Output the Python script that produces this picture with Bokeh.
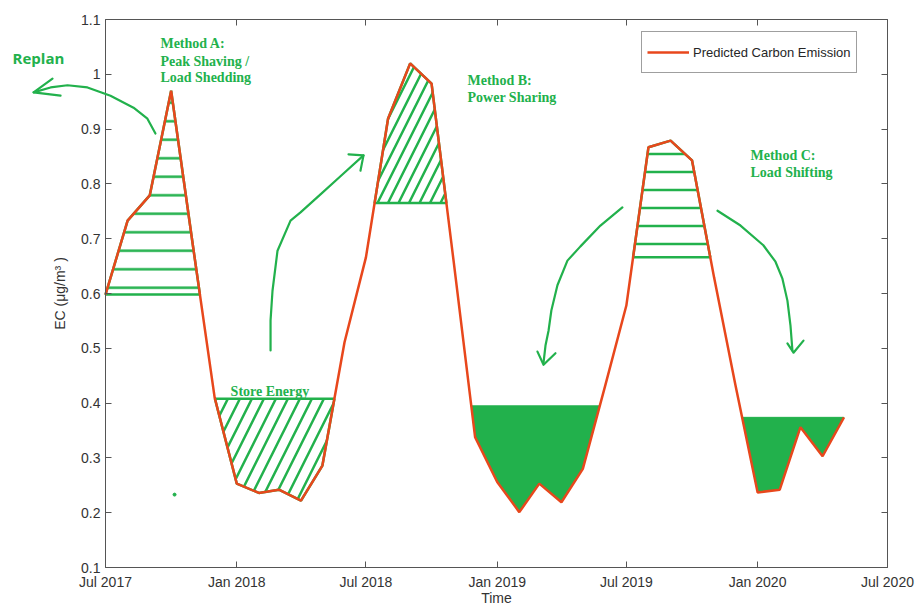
import numpy as np
import pandas as pd
from bokeh.plotting import figure
from bokeh.models import (LinearAxis, DatetimeAxis, FixedTicker, DatetimeTickFormatter,
                          Label, PolyAnnotation, Range1d)
from bokeh.embed import file_html
from bokeh.resources import INLINE

# ---------------- data ----------------
months = pd.date_range("2017-07-01", "2020-05-01", freq="MS")
emission = [0.598, 0.733, 0.779, 0.970, 0.683, 0.410, 0.253, 0.236, 0.242, 0.222,
            0.286, 0.511, 0.666, 0.919, 1.020, 0.983, 0.658, 0.338, 0.256, 0.201,
            0.253, 0.219, 0.280, 0.430, 0.578, 0.867, 0.879, 0.843, 0.629, 0.432,
            0.237, 0.242, 0.356, 0.303, 0.374]

x_tick_dates = ["2017-07-01", "2018-01-01", "2018-07-01", "2019-01-01",
                "2019-07-01", "2020-01-01", "2020-07-01"]
y_ticks = [0.1, 0.2, 0.3, 0.4, 0.5, 0.6, 0.7, 0.8, 0.9, 1.0, 1.1]
y_tick_labels = ["0.1", "0.2", "0.3", "0.4", "0.5", "0.6", "0.7", "0.8", "0.9", "1", "1.1"]

# regions: (first index, last index, threshold, above?)
method_a = (0, 5, 0.598, True)
store_energy = (5, 11, 0.408, False)
method_b = (11, 17, 0.765, True)
fill_1 = (16, 24, 0.395, False)
method_c = (23, 29, 0.666, True)
fill_2 = (28, 34, 0.374, False)

# annotation paths (months after Jul 2017, value)
arrow_replan = [(2.30, 0.892), (1.93, 0.919), (1.29, 0.939), (0.23, 0.961), (-0.83, 0.976),
                (-1.75, 0.980), (-2.53, 0.976), (-3.31, 0.967)]
head_replan = [(-2.44, 0.992), (-3.31, 0.967), (-2.07, 0.961)]
arrow_b = [(7.60, 0.496), (7.60, 0.551), (7.69, 0.605), (7.92, 0.678), (8.52, 0.733),
           (8.98, 0.748), (9.90, 0.781), (10.82, 0.814), (11.88, 0.852)]
head_b = [(11.19, 0.854), (11.88, 0.852), (11.74, 0.824)]
arrow_c1 = [(23.80, 0.757), (22.79, 0.724), (21.87, 0.686), (21.27, 0.660), (20.81, 0.615),
            (20.53, 0.569), (20.40, 0.532), (20.26, 0.505), (20.17, 0.474)]
head_c1 = [(19.89, 0.494), (20.17, 0.470), (20.72, 0.491)]
arrow_c2 = [(28.18, 0.751), (29.24, 0.724), (30.29, 0.688), (30.85, 0.658), (31.17, 0.627),
            (31.40, 0.587), (31.54, 0.542), (31.63, 0.496)]
head_c2 = [(31.40, 0.509), (31.68, 0.492), (32.14, 0.514)]
stray_dot = (3.18, 0.233)

texts = [
    ("Replan", -4.28, 1.030, "sans"),
    ("Method A:", 2.53, 1.056, "serif"),
    ("Peak Shaving /", 2.53, 1.024, "serif"),
    ("Load Shedding", 2.53, 0.994, "serif"),
    ("Method B:", 16.67, 0.989, "serif"),
    ("Power Sharing", 16.67, 0.958, "serif"),
    ("Method C:", 29.70, 0.851, "serif"),
    ("Load Shifting", 29.70, 0.820, "serif"),
    ("Store Energy", 5.76, 0.422, "serif"),
]
x_axis_title = "Time"
y_axis_title = "EC (μg/m³ )"
legend_title = "Predicted Carbon Emission"

# ---------------- helpers ----------------
def ms(d):
    return pd.Timestamp(d).value / 1e6

x = np.array([t.value / 1e6 for t in months])
y = np.array(emission)
base_ms = ms("2017-07-01")
MONTH_MS = 30.4375 * 86400000.0

def mx(m):
    return base_ms + m * MONTH_MS

def region(spec):
    i0, i1, thr, above = spec
    xs, ys = [], []
    def inside(v):
        return v >= thr - 1e-9 if above else v <= thr + 1e-9
    for k in range(i0, i1 + 1):
        ink = inside(y[k])
        if k > i0:
            inp = inside(y[k - 1])
            if ink != inp:
                f = (thr - y[k - 1]) / (y[k] - y[k - 1])
                xs.append(x[k - 1] + f * (x[k] - x[k - 1]))
                ys.append(thr)
        if ink:
            xs.append(x[k])
            ys.append(y[k])
    return xs, ys

GREEN = "#22B14C"
RED = "#E8471C"
AXC = "#555555"
TXC = "#333333"

# layout: the frame covers the whole canvas; the axes box (drawn with fixed-location
# axes) sits at 105..887 px horizontally and 19..567 px vertically
W, H = 916, 608
BOX_L, BOX_R, BOX_T, BOX_B = 105, 887, 19, 567
x_start = ms(x_tick_dates[0])
x_end = ms(x_tick_dates[-1])
y_start, y_end = y_ticks[0], y_ticks[-1]
xpp = (x_end - x_start) / (BOX_R - BOX_L)
ypp = (y_end - y_start) / (BOX_B - BOX_T)
x_lo, x_hi = x_start - BOX_L * xpp, x_end + (W - BOX_R) * xpp
y_lo, y_hi = y_start - (H - BOX_B) * ypp, y_end + BOX_T * ypp

# ---------------- figure ----------------
p = figure(width=W, height=H, x_axis_type="datetime", output_backend="svg",
           toolbar_location=None, min_border=0,
           x_range=Range1d(x_lo, x_hi), y_range=Range1d(y_lo, y_hi))
p.xgrid.visible = False
p.ygrid.visible = False
p.outline_line_color = None
p.background_fill_color = "white"
p.border_fill_color = "white"

xt = [ms(d) for d in x_tick_dates]
fmt = DatetimeTickFormatter(years="%b %Y", months="%b %Y", days="%b %Y")

def style_axis(ax):
    ax.axis_line_color = AXC
    ax.major_tick_line_color = AXC
    ax.major_tick_in = 6
    ax.major_tick_out = 0
    ax.minor_tick_line_color = None
    ax.major_label_text_font = "Liberation Sans"
    ax.major_label_text_font_size = "14px"
    ax.major_label_text_color = TXC
    ax.axis_label_text_font = "Liberation Sans"
    ax.axis_label_text_font_size = "14px"
    ax.axis_label_text_font_style = "normal"
    ax.axis_label_text_color = TXC

def hide_labels(ax):
    ax.major_label_text_color = None
    ax.major_label_text_font_size = "1px"
    ax.major_label_standoff = 0

xa = p.xaxis[0]
xa.ticker = FixedTicker(ticks=xt)
xa.formatter = fmt
xa.bounds = (x_start, x_end)
xa.fixed_location = y_start
style_axis(xa)
xa.major_label_standoff = 6

ya = p.yaxis[0]
ya.ticker = FixedTicker(ticks=y_ticks)
ya.major_label_overrides = {t: l for t, l in zip(y_ticks, y_tick_labels)}
ya.bounds = (y_start, y_end)
ya.fixed_location = x_start
style_axis(ya)
ya.major_label_standoff = 5
ya.axis_label = y_axis_title
ya.axis_label_standoff = 10

top = DatetimeAxis(ticker=FixedTicker(ticks=xt), formatter=fmt,
                   bounds=(x_start, x_end), fixed_location=y_end)
style_axis(top)
hide_labels(top)
p.add_layout(top, "above")

right = LinearAxis(ticker=FixedTicker(ticks=y_ticks), bounds=(y_start, y_end),
                   fixed_location=x_end)
style_axis(right)
hide_labels(right)
p.add_layout(right, "right")

# x axis title, centred under the axes box (bottom of text 3 px above the page edge)
p.add_layout(Label(x=(x_start + x_end) / 2, y=y_start - (H - BOX_B - 3) * ypp,
                   text=x_axis_title, text_align="center", text_baseline="bottom",
                   text_font="Liberation Sans", text_font_size="14px", text_color=TXC))

# hatched regions
for spec, pat, sc in [(method_a, "-", 18.5), (store_energy, "/", 24),
                      (method_b, "/", 21), (method_c, "-", 18)]:
    xs, ys = region(spec)
    p.patch(xs, ys, fill_color=None, line_color=GREEN, line_width=2.5,
            hatch_pattern=pat, hatch_color=GREEN, hatch_weight=2.5, hatch_scale=sc)

# filled regions
for spec in [fill_1, fill_2]:
    xs, ys = region(spec)
    p.patch(xs, ys, fill_color=GREEN, line_color=GREEN, line_width=1)

# main series
p.line(x, y, line_color=RED, line_width=2.5, legend_label=legend_title)

# arrows
def path_annot(pts):
    xs = [mx(a) for a, b in pts]
    ys = [b for a, b in pts]
    xs2 = xs + xs[-2:0:-1]
    ys2 = ys + ys[-2:0:-1]
    p.add_layout(PolyAnnotation(xs=xs2, ys=ys2, fill_color=None, fill_alpha=0,
                                line_color=GREEN, line_alpha=1.0,
                                line_width=2.2, line_join="round"))

for pts in [arrow_replan, head_replan, arrow_b, head_b, arrow_c1, head_c1, arrow_c2, head_c2]:
    path_annot(pts)

p.scatter([mx(stray_dot[0])], [stray_dot[1]], size=3, color=GREEN)

for t, m, v, kind in texts:
    if kind == "sans":
        lab = Label(x=mx(m), y=v, text=t, text_font="Open Sans", text_font_size="15px",
                    text_font_style="bold", text_color=GREEN, text_baseline="alphabetic")
    else:
        lab = Label(x=mx(m), y=v, text=t, text_font="Liberation Serif", text_font_size="14px",
                    text_font_style="bold", text_color=GREEN, text_baseline="alphabetic")
    p.add_layout(lab)

# legend (bottom-left corner given in frame pixels)
lg = p.legend[0]
lg.location = (641, H - 73)
lg.margin = 0
lg.padding = 5
lg.spacing = 0
lg.glyph_width = 42
lg.glyph_height = 30
lg.label_height = 30
lg.label_standoff = 4
lg.label_text_font = "Liberation Sans"
lg.label_text_font_size = "13px"
lg.label_text_color = "#262626"
lg.border_line_color = "#404040"
lg.border_line_width = 1
lg.background_fill_color = "white"
lg.background_fill_alpha = 1

open("out.html", "w").write(file_html(p, INLINE))
